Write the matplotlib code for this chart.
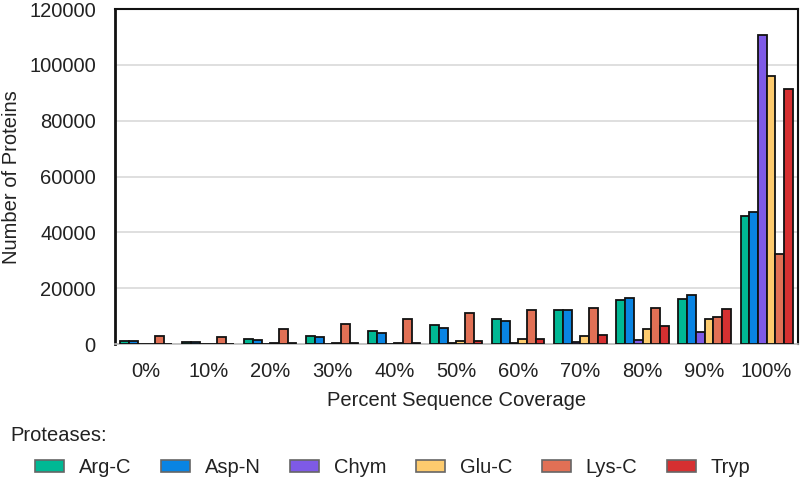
import numpy as np
import matplotlib.pyplot as plt
from matplotlib.patches import Patch

plt.rcParams['font.family'] = ['Liberation Sans', 'DejaVu Sans']

coverage = ['0%', '10%', '20%', '30%', '40%', '50%', '60%', '70%', '80%', '90%', '100%']
proteases = ['Arg-C', 'Asp-N', 'Chym', 'Glu-C', 'Lys-C', 'Tryp']
colors = ['#00b894', '#0984e3', '#7e5ae6', '#fdcb6e', '#e17055', '#d63031']

arg_c = [1250, 900, 2000, 3000, 4700, 7000, 9100, 12400, 15800, 16000, 45800]
asp_n = [1200, 600, 1500, 2700, 4100, 5900, 8200, 12400, 16700, 17700, 47200]
chym = [100, 100, 100, 150, 200, 250, 350, 800, 1400, 4300, 110900]
glu_c = [150, 150, 250, 350, 500, 1100, 2000, 2900, 5600, 8900, 96200]
lys_c = [3000, 2400, 5300, 7300, 9000, 11200, 12100, 12800, 12800, 9600, 32400]
tryp = [150, 150, 300, 300, 400, 1100, 1700, 3400, 6500, 12700, 91300]

series = [arg_c, asp_n, chym, glu_c, lys_c, tryp]

fs = 14.5
txt = '#222222'

fig = plt.figure(figsize=(8, 4.82), dpi=100)
ax = fig.add_axes([0.144, 0.286, 0.853, 0.695])

x = np.arange(len(coverage))
w = 0.14
for i, (vals, c) in enumerate(zip(series, colors)):
    ax.bar(x + (i - 2.5) * w, vals, width=w, color=c, edgecolor='#111111',
           linewidth=1.3, zorder=3)

ax.set_xlim(-0.5, len(coverage) - 0.5)
ax.set_ylim(0, 120000)
ax.set_yticks(range(0, 120001, 20000))
ax.set_xticks(x)
ax.set_xticklabels(coverage)
ax.tick_params(axis='both', length=0, labelsize=fs, colors=txt)
ax.tick_params(axis='x', pad=13)
ax.tick_params(axis='y', pad=14)
ax.grid(axis='y', color='#d9d9d9', linewidth=1.2, zorder=0)

for side in ['left', 'top', 'right']:
    ax.spines[side].set_color('#111111')
    ax.spines[side].set_linewidth(1.5)
ax.spines['left'].set_linewidth(2)
ax.spines['bottom'].set_color('#bbbbbb')
ax.spines['bottom'].set_linewidth(1.2)

ax.set_xlabel('Percent Sequence Coverage', fontsize=fs, color=txt, labelpad=7)
ax.set_ylabel('Number of Proteins', fontsize=fs, color=txt, labelpad=6)

fig.text(0.0125, 0.0975, 'Proteases:', fontsize=fs, color=txt, va='center')

handles = [Patch(facecolor=c, edgecolor='#666666', linewidth=1.2) for c in colors]
fig.legend(handles, proteases, loc='center left', bbox_to_anchor=(0.044, 0.030),
           ncol=6, frameon=False, fontsize=fs, handlelength=1.44, handleheight=0.55,
           handletextpad=0.75, columnspacing=1.45, borderaxespad=0, borderpad=0,
           labelcolor=txt)

fig.savefig('out.png', dpi=100)
